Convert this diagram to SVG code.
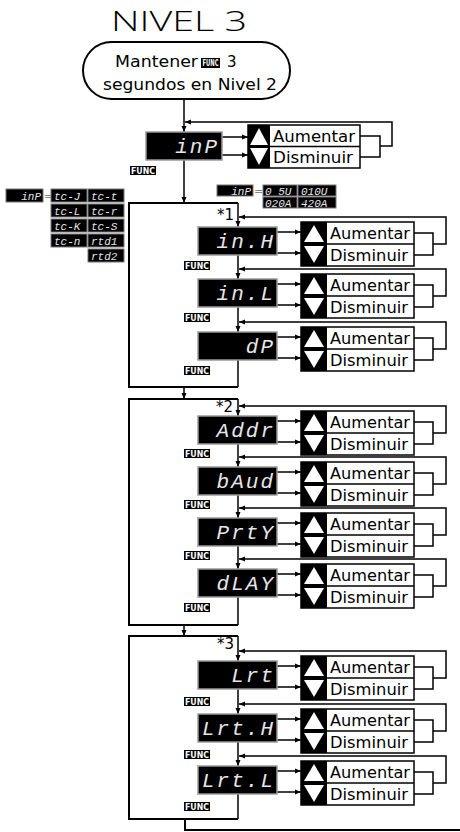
<svg xmlns="http://www.w3.org/2000/svg" width="460" height="832" viewBox="0 0 460 832">
<style>
.ln{stroke:#000;stroke-width:1.5;fill:none}
.bx{stroke:#000;stroke-width:2;fill:none}
.disp{fill:#000;stroke:#9a9a9a;stroke-width:1.5}
.dt{font-family:"Liberation Mono","DejaVu Sans Mono",monospace;font-style:italic;fill:#e6e6e6;font-size:21px;text-anchor:end;letter-spacing:2px}
.cell{fill:#000;stroke:#777;stroke-width:1}
.ct{font-family:"Liberation Mono","DejaVu Sans Mono",monospace;font-style:italic;fill:#e6e6e6;font-size:11px}
.bt{font-family:"DejaVu Sans",sans-serif;font-size:15.5px;fill:#000}
.bf{fill:#fff;stroke:#000;stroke-width:1.5}
.ic{fill:#000}
.tri{fill:#fff}
.fn{fill:#000}
.ft{font-family:"DejaVu Sans",sans-serif;font-weight:bold;font-size:8.5px;fill:#fff}
.lbl{font-family:"DejaVu Sans",sans-serif;font-size:15px;fill:#000}
</style>
<defs>
<marker id="ar" viewBox="0 0 6 6" refX="6" refY="3" markerWidth="6" markerHeight="6" orient="auto" markerUnits="userSpaceOnUse"><path d="M0,0.5 L6,3 L0,5.5z" fill="#000"/></marker>
</defs>

<text x="111" y="31" font-family="Open Sans, DejaVu Sans, sans-serif" font-weight="300" font-size="27" textLength="136" lengthAdjust="spacingAndGlyphs">NIVEL 3</text>

<g id="start">
<rect x="83" y="42" width="207" height="57" rx="28.5" class="bx"/>
<text x="115" y="67" class="lbl" font-size="16" textLength="83" lengthAdjust="spacingAndGlyphs">Mantener</text>
<rect x="201" y="58" width="19" height="10" class="fn"/>
<text x="202.5" y="65.5" class="ft" font-size="6" textLength="16" lengthAdjust="spacingAndGlyphs">FUNC</text>
<text x="227" y="67" class="lbl" font-size="16">3</text>
<text x="103" y="90" class="lbl" font-size="16" textLength="174" lengthAdjust="spacingAndGlyphs">segundos en Nivel 2</text>
</g>

<g id="connectors">
<path d="M184,99 V132" class="ln" marker-end="url(#ar)"/>
<path d="M360,136 H380 V157 H360 M380,146 H392 V122 H185" class="ln" marker-end="url(#ar)"/>
<path d="M222,137 H248" class="ln" marker-end="url(#ar)"/>
<path d="M222,155 H248" class="ln" marker-end="url(#ar)"/>
<path d="M184,160 V203" class="ln" marker-end="url(#ar)"/>
<path d="M238,203 H129 V387 H238" class="bx"/>
<path d="M184,387 V399" class="ln" marker-end="url(#ar)"/>
<path d="M238,399 H129 V625 H238" class="bx"/>
<path d="M184,625 V636" class="ln" marker-end="url(#ar)"/>
<path d="M238,636 H129 V819 H238" class="bx"/>
<path d="M185,819 V830 H460" class="bx"/>
<path d="M238,203 V227" class="ln" marker-end="url(#ar)"/>
<path d="M238,255 V279" class="ln" marker-end="url(#ar)"/>
<path d="M238,307 V332" class="ln" marker-end="url(#ar)"/>
<path d="M238,360 V387" class="ln"/>
<path d="M238,399 V416" class="ln" marker-end="url(#ar)"/>
<path d="M238,444 V467" class="ln" marker-end="url(#ar)"/>
<path d="M238,495 V518" class="ln" marker-end="url(#ar)"/>
<path d="M238,546 V569" class="ln" marker-end="url(#ar)"/>
<path d="M238,597 V625" class="ln"/>
<path d="M238,636 V661" class="ln" marker-end="url(#ar)"/>
<path d="M238,689 V714" class="ln" marker-end="url(#ar)"/>
<path d="M238,742 V766" class="ln" marker-end="url(#ar)"/>
<path d="M238,794 V819" class="ln"/>
<path d="M414,233 H433 V255 H414 M433,244 H446 V217 H239" class="ln" marker-end="url(#ar)"/>
<path d="M414,285 H433 V307 H414 M433,296 H446 V269 H239" class="ln" marker-end="url(#ar)"/>
<path d="M414,338 H433 V360 H414 M433,349 H446 V322 H239" class="ln" marker-end="url(#ar)"/>
<path d="M414,422 H433 V444 H414 M433,433 H446 V406 H239" class="ln" marker-end="url(#ar)"/>
<path d="M414,473 H433 V495 H414 M433,484 H446 V457 H239" class="ln" marker-end="url(#ar)"/>
<path d="M414,524 H433 V546 H414 M433,535 H446 V508 H239" class="ln" marker-end="url(#ar)"/>
<path d="M414,575 H433 V597 H414 M433,586 H446 V559 H239" class="ln" marker-end="url(#ar)"/>
<path d="M414,667 H433 V689 H414 M433,678 H446 V651 H239" class="ln" marker-end="url(#ar)"/>
<path d="M414,720 H433 V742 H414 M433,731 H446 V704 H239" class="ln" marker-end="url(#ar)"/>
<path d="M414,772 H433 V794 H414 M433,783 H446 V756 H239" class="ln" marker-end="url(#ar)"/>
<path d="M277,232 H301" class="ln" marker-end="url(#ar)"/><path d="M277,253 H301" class="ln" marker-end="url(#ar)"/>
<path d="M277,284 H301" class="ln" marker-end="url(#ar)"/><path d="M277,305 H301" class="ln" marker-end="url(#ar)"/>
<path d="M277,337 H301" class="ln" marker-end="url(#ar)"/><path d="M277,358 H301" class="ln" marker-end="url(#ar)"/>
<path d="M277,421 H301" class="ln" marker-end="url(#ar)"/><path d="M277,442 H301" class="ln" marker-end="url(#ar)"/>
<path d="M277,472 H301" class="ln" marker-end="url(#ar)"/><path d="M277,493 H301" class="ln" marker-end="url(#ar)"/>
<path d="M277,523 H301" class="ln" marker-end="url(#ar)"/><path d="M277,544 H301" class="ln" marker-end="url(#ar)"/>
<path d="M277,574 H301" class="ln" marker-end="url(#ar)"/><path d="M277,595 H301" class="ln" marker-end="url(#ar)"/>
<path d="M277,666 H301" class="ln" marker-end="url(#ar)"/><path d="M277,687 H301" class="ln" marker-end="url(#ar)"/>
<path d="M277,719 H301" class="ln" marker-end="url(#ar)"/><path d="M277,740 H301" class="ln" marker-end="url(#ar)"/>
<path d="M277,771 H301" class="ln" marker-end="url(#ar)"/><path d="M277,792 H301" class="ln" marker-end="url(#ar)"/>
</g>

<g id="inP">
<rect x="146" y="132" width="76" height="28" class="disp"/>
<text x="219" y="153" class="dt">inP</text>
<rect x="130" y="166" width="26" height="9" class="fn"/>
<text x="131" y="174" class="ft" textLength="24" lengthAdjust="spacingAndGlyphs">FUNC</text>
</g>
<g id="inP-btn">
<rect x="248" y="125" width="112" height="43" class="bf"/>
<rect x="248" y="125" width="22" height="43" class="ic"/>
<polygon points="259,128 268,145 250,145" class="tri"/>
<polygon points="250,148 268,148 259,165" class="tri"/>
<line x1="270" y1="146.5" x2="360" y2="146.5" class="ln"/>
<text x="273" y="142" class="bt" textLength="82" lengthAdjust="spacingAndGlyphs">Aumentar</text>
<text x="273" y="163" class="bt" textLength="80" lengthAdjust="spacingAndGlyphs">Disminuir</text>
</g>

<g id="legend-left">
<rect x="6" y="189" width="37" height="13" class="cell"/>
<text x="41" y="199.5" class="ct" text-anchor="end">inP</text>
<text x="44" y="200" font-family="DejaVu Sans, sans-serif" font-size="12" fill="#888">=</text>
<rect x="51" y="189" width="36" height="13" class="cell"/><text x="54" y="199.5" class="ct">tc-J</text>
<rect x="88" y="189" width="36" height="13" class="cell"/><text x="91" y="199.5" class="ct">tc-t</text>
<rect x="51" y="204" width="36" height="13" class="cell"/><text x="54" y="214.5" class="ct">tc-L</text>
<rect x="88" y="204" width="36" height="13" class="cell"/><text x="91" y="214.5" class="ct">tc-r</text>
<rect x="51" y="219" width="36" height="13" class="cell"/><text x="54" y="229.5" class="ct">tc-K</text>
<rect x="88" y="219" width="36" height="13" class="cell"/><text x="91" y="229.5" class="ct">tc-S</text>
<rect x="51" y="234" width="36" height="13" class="cell"/><text x="54" y="244.5" class="ct">tc-n</text>
<rect x="88" y="234" width="36" height="13" class="cell"/><text x="91" y="244.5" class="ct">rtd1</text>
<rect x="88" y="249" width="36" height="13" class="cell"/><text x="91" y="259.5" class="ct">rtd2</text>
</g>
<g id="legend-top">
<rect x="217" y="185" width="36" height="11" class="cell"/>
<text x="251" y="194.5" class="ct" text-anchor="end">inP</text>
<text x="254" y="195" font-family="DejaVu Sans, sans-serif" font-size="11" fill="#888">=</text>
<rect x="263" y="185" width="34" height="11" class="cell"/><text x="265" y="194.5" class="ct">0 5U</text>
<rect x="298" y="185" width="38" height="11" class="cell"/><text x="301" y="194.5" class="ct">010U</text>
<rect x="263" y="197" width="34" height="11" class="cell"/><text x="265" y="206.5" class="ct">020A</text>
<rect x="298" y="197" width="38" height="11" class="cell"/><text x="301" y="206.5" class="ct">420A</text>
</g>

<text x="217" y="220" class="lbl">*1</text>
<text x="216" y="412" class="lbl" font-size="16">*2</text>
<text x="217" y="649" class="lbl">*3</text>

<g id="inH"><rect x="198" y="227" width="79" height="28" class="disp"/><text x="275" y="248" class="dt">in.H</text><rect x="184" y="261" width="26" height="9" class="fn"/><text x="185" y="269" class="ft" textLength="24" lengthAdjust="spacingAndGlyphs">FUNC</text></g>
<g id="inH-btn"><rect x="301" y="222" width="113" height="44" class="bf"/><rect x="301" y="222" width="26" height="44" class="ic"/><polygon points="314,225 324,242 304,242" class="tri"/><polygon points="304,246 324,246 314,263" class="tri"/><line x1="327" y1="244" x2="414" y2="244" class="ln"/><text x="330" y="239" class="bt" textLength="80" lengthAdjust="spacingAndGlyphs">Aumentar</text><text x="330" y="260.5" class="bt" textLength="78" lengthAdjust="spacingAndGlyphs">Disminuir</text></g>

<g id="inL"><rect x="198" y="279" width="79" height="28" class="disp"/><text x="275" y="300" class="dt">in.L</text><rect x="184" y="313" width="26" height="9" class="fn"/><text x="185" y="321" class="ft" textLength="24" lengthAdjust="spacingAndGlyphs">FUNC</text></g>
<g id="inL-btn"><rect x="301" y="274" width="113" height="44" class="bf"/><rect x="301" y="274" width="26" height="44" class="ic"/><polygon points="314,277 324,294 304,294" class="tri"/><polygon points="304,298 324,298 314,315" class="tri"/><line x1="327" y1="296" x2="414" y2="296" class="ln"/><text x="330" y="291" class="bt" textLength="80" lengthAdjust="spacingAndGlyphs">Aumentar</text><text x="330" y="312.5" class="bt" textLength="78" lengthAdjust="spacingAndGlyphs">Disminuir</text></g>

<g id="dP"><rect x="198" y="332" width="79" height="28" class="disp"/><text x="275" y="353" class="dt">dP</text><rect x="184" y="366" width="26" height="9" class="fn"/><text x="185" y="374" class="ft" textLength="24" lengthAdjust="spacingAndGlyphs">FUNC</text></g>
<g id="dP-btn"><rect x="301" y="327" width="113" height="44" class="bf"/><rect x="301" y="327" width="26" height="44" class="ic"/><polygon points="314,330 324,347 304,347" class="tri"/><polygon points="304,351 324,351 314,368" class="tri"/><line x1="327" y1="349" x2="414" y2="349" class="ln"/><text x="330" y="344" class="bt" textLength="80" lengthAdjust="spacingAndGlyphs">Aumentar</text><text x="330" y="365.5" class="bt" textLength="78" lengthAdjust="spacingAndGlyphs">Disminuir</text></g>

<g id="Addr"><rect x="198" y="416" width="79" height="28" class="disp"/><text x="275" y="437" class="dt">Addr</text><rect x="184" y="449" width="26" height="9" class="fn"/><text x="185" y="457" class="ft" textLength="24" lengthAdjust="spacingAndGlyphs">FUNC</text></g>
<g id="Addr-btn"><rect x="301" y="411" width="113" height="44" class="bf"/><rect x="301" y="411" width="26" height="44" class="ic"/><polygon points="314,414 324,431 304,431" class="tri"/><polygon points="304,435 324,435 314,452" class="tri"/><line x1="327" y1="433" x2="414" y2="433" class="ln"/><text x="330" y="428" class="bt" textLength="80" lengthAdjust="spacingAndGlyphs">Aumentar</text><text x="330" y="449.5" class="bt" textLength="78" lengthAdjust="spacingAndGlyphs">Disminuir</text></g>

<g id="bAud"><rect x="198" y="467" width="79" height="28" class="disp"/><text x="275" y="488" class="dt">bAud</text><rect x="184" y="500" width="26" height="9" class="fn"/><text x="185" y="508" class="ft" textLength="24" lengthAdjust="spacingAndGlyphs">FUNC</text></g>
<g id="bAud-btn"><rect x="301" y="462" width="113" height="44" class="bf"/><rect x="301" y="462" width="26" height="44" class="ic"/><polygon points="314,465 324,482 304,482" class="tri"/><polygon points="304,486 324,486 314,503" class="tri"/><line x1="327" y1="484" x2="414" y2="484" class="ln"/><text x="330" y="479" class="bt" textLength="80" lengthAdjust="spacingAndGlyphs">Aumentar</text><text x="330" y="500.5" class="bt" textLength="78" lengthAdjust="spacingAndGlyphs">Disminuir</text></g>

<g id="Prty"><rect x="198" y="518" width="79" height="28" class="disp"/><text x="275" y="539" class="dt">PrtY</text><rect x="184" y="551" width="26" height="9" class="fn"/><text x="185" y="559" class="ft" textLength="24" lengthAdjust="spacingAndGlyphs">FUNC</text></g>
<g id="Prty-btn"><rect x="301" y="513" width="113" height="44" class="bf"/><rect x="301" y="513" width="26" height="44" class="ic"/><polygon points="314,516 324,533 304,533" class="tri"/><polygon points="304,537 324,537 314,554" class="tri"/><line x1="327" y1="535" x2="414" y2="535" class="ln"/><text x="330" y="530" class="bt" textLength="80" lengthAdjust="spacingAndGlyphs">Aumentar</text><text x="330" y="551.5" class="bt" textLength="78" lengthAdjust="spacingAndGlyphs">Disminuir</text></g>

<g id="dLAY"><rect x="198" y="569" width="79" height="28" class="disp"/><text x="275" y="590" class="dt">dLAY</text><rect x="184" y="603" width="26" height="9" class="fn"/><text x="185" y="611" class="ft" textLength="24" lengthAdjust="spacingAndGlyphs">FUNC</text></g>
<g id="dLAY-btn"><rect x="301" y="564" width="113" height="44" class="bf"/><rect x="301" y="564" width="26" height="44" class="ic"/><polygon points="314,567 324,584 304,584" class="tri"/><polygon points="304,588 324,588 314,605" class="tri"/><line x1="327" y1="586" x2="414" y2="586" class="ln"/><text x="330" y="581" class="bt" textLength="80" lengthAdjust="spacingAndGlyphs">Aumentar</text><text x="330" y="602.5" class="bt" textLength="78" lengthAdjust="spacingAndGlyphs">Disminuir</text></g>

<g id="Lrt"><rect x="198" y="661" width="79" height="28" class="disp"/><text x="275" y="682" class="dt">Lrt</text><rect x="184" y="697" width="26" height="9" class="fn"/><text x="185" y="705" class="ft" textLength="24" lengthAdjust="spacingAndGlyphs">FUNC</text></g>
<g id="Lrt-btn"><rect x="301" y="656" width="113" height="44" class="bf"/><rect x="301" y="656" width="26" height="44" class="ic"/><polygon points="314,659 324,676 304,676" class="tri"/><polygon points="304,680 324,680 314,697" class="tri"/><line x1="327" y1="678" x2="414" y2="678" class="ln"/><text x="330" y="673" class="bt" textLength="80" lengthAdjust="spacingAndGlyphs">Aumentar</text><text x="330" y="694.5" class="bt" textLength="78" lengthAdjust="spacingAndGlyphs">Disminuir</text></g>

<g id="LrtH"><rect x="198" y="714" width="79" height="28" class="disp"/><text x="275" y="735" class="dt">Lrt.H</text><rect x="184" y="750" width="26" height="9" class="fn"/><text x="185" y="758" class="ft" textLength="24" lengthAdjust="spacingAndGlyphs">FUNC</text></g>
<g id="LrtH-btn"><rect x="301" y="709" width="113" height="44" class="bf"/><rect x="301" y="709" width="26" height="44" class="ic"/><polygon points="314,712 324,729 304,729" class="tri"/><polygon points="304,733 324,733 314,750" class="tri"/><line x1="327" y1="731" x2="414" y2="731" class="ln"/><text x="330" y="726" class="bt" textLength="80" lengthAdjust="spacingAndGlyphs">Aumentar</text><text x="330" y="747.5" class="bt" textLength="78" lengthAdjust="spacingAndGlyphs">Disminuir</text></g>

<g id="LrtL"><rect x="198" y="766" width="79" height="28" class="disp"/><text x="275" y="787" class="dt">Lrt.L</text><rect x="184" y="802" width="26" height="9" class="fn"/><text x="185" y="810" class="ft" textLength="24" lengthAdjust="spacingAndGlyphs">FUNC</text></g>
<g id="LrtL-btn"><rect x="301" y="761" width="113" height="44" class="bf"/><rect x="301" y="761" width="26" height="44" class="ic"/><polygon points="314,764 324,781 304,781" class="tri"/><polygon points="304,785 324,785 314,802" class="tri"/><line x1="327" y1="783" x2="414" y2="783" class="ln"/><text x="330" y="778" class="bt" textLength="80" lengthAdjust="spacingAndGlyphs">Aumentar</text><text x="330" y="799.5" class="bt" textLength="78" lengthAdjust="spacingAndGlyphs">Disminuir</text></g>
</svg>
